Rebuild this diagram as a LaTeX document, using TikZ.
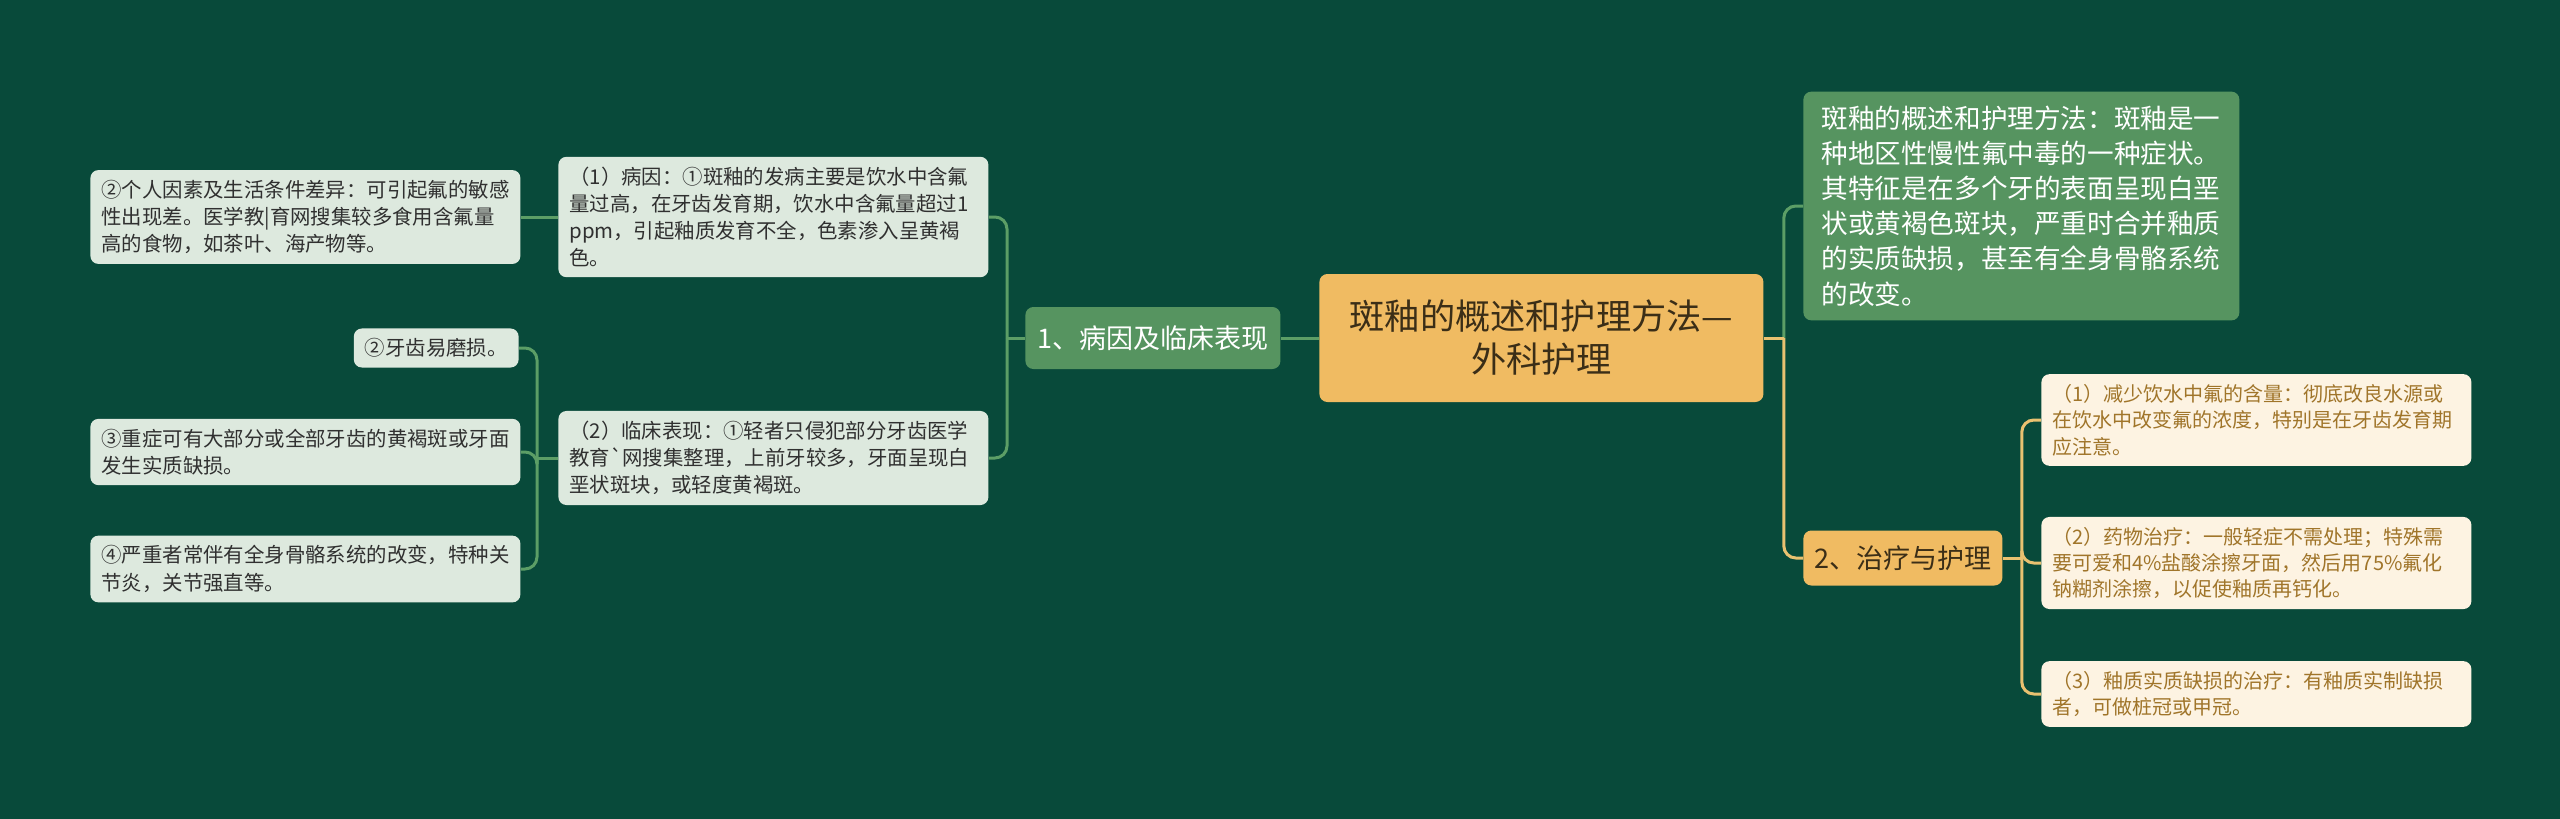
\documentclass[tikz,border=0pt]{standalone}
\usepackage{fontspec}
\setmainfont{Noto Sans CJK SC}
\usepackage{tikz}

\definecolor{bgcol}{HTML}{084A3A}
\definecolor{rootcol}{HTML}{F0BB62}
\definecolor{roottext}{HTML}{3B2E17}
\definecolor{greennode}{HTML}{569460}
\definecolor{greenleaf}{HTML}{DDE9DE}
\definecolor{leaftext}{HTML}{303030}
\definecolor{yellowleaf}{HTML}{FDF3E2}
\definecolor{yellowtext}{HTML}{A0752A}
\definecolor{greenline}{HTML}{5C9E66}
\definecolor{yellowline}{HTML}{E9C170}

\begin{document}
\begin{tikzpicture}[x = 0.5pt, y = -0.5pt,
  root/.style = {fill = rootcol, text = roottext, rounded corners = 4pt, align = center,
    minimum width = 222pt, minimum height = 64pt, inner sep = 0pt,
    font = \fontsize{17.6}{21.5}\selectfont},
  topic/.style = {fill = greennode, text = white, rounded corners = 4pt,
    minimum width = 127.5pt, minimum height = 31pt, inner sep = 0pt,
    font = \fontsize{13.5}{16}\selectfont},
  topicy/.style = {fill = rootcol, text = roottext, rounded corners = 4pt,
    minimum width = 99.5pt, minimum height = 27.5pt, inner sep = 0pt,
    font = \fontsize{13.5}{16}\selectfont},
  note/.style = {fill = greennode, text = white, rounded corners = 4pt, align = left,
    text width = 200pt, inner xsep = 9pt, inner ysep = 7pt,
    font = \fontsize{13.3}{17.6}\selectfont},
  leaf/.style = {fill = greenleaf, text = leaftext, rounded corners = 4pt, align = left,
    text width = 204pt, inner xsep = 5.5pt, inner ysep = 5pt,
    font = \fontsize{10.2}{13.6}\selectfont},
  leafy/.style = {fill = yellowleaf, text = yellowtext, rounded corners = 4pt, align = left,
    text width = 204pt, inner xsep = 5.5pt, inner ysep = 5pt,
    font = \fontsize{10}{13.2}\selectfont},
  gline/.style = {draw = greenline, line width = 1.5pt},
  yline/.style = {draw = yellowline, line width = 1.5pt}]
\useasboundingbox (0, 0) rectangle (2560, 819);
\fill[bgcol] (0, 0) rectangle (2560, 819);
%\draw[very thin, color = gray](0, 0) grid[step = 100] (2560, 819);
\node (root) at (1319, 338) [root, anchor = west] {斑釉的概述和护理方法—\\外科护理};
\node (cause) at (1025, 338) [topic, anchor = west] {1、病因及临床表现};
\node (cause1) at (558, 217) [leaf, anchor = west] {（1）病因：①斑釉的发病主要是饮水中含氟\\量过高，在牙齿发育期，饮水中含氟量超过1\\ppm，引起釉质发育不全，色素渗入呈黄褐\\色。};
\node (factor) at (90, 217) [leaf, anchor = west] {②个人因素及生活条件差异：可引起氟的敏感\\性出现差。医学教|育网搜集较多食用含氟量\\高的食物，如茶叶、海产物等。};
\node (sign) at (558, 458) [leaf, anchor = west] {（2）临床表现：①轻者只侵犯部分牙齿医学\\教育\textasciigrave 网搜集整理，上前牙较多，牙面呈现白\\垩状斑块，或轻度黄褐斑。};
\node (wear) at (519, 348) [leaf, text width = {}, anchor = east] {②牙齿易磨损。};
\node (defect) at (90, 452) [leaf, anchor = west] {③重症可有大部分或全部牙齿的黄褐斑或牙面\\发生实质缺损。};
\node (bone) at (90, 569) [leaf, anchor = west] {④严重者常伴有全身骨骼系统的改变，特种关\\节炎，关节强直等。};
\node (summary) at (1803, 206) [note, anchor = west] {斑釉的概述和护理方法：斑釉是一\\种地区性慢性氟中毒的一种症状。\\其特征是在多个牙的表面呈现白垩\\状或黄褐色斑块，严重时合并釉质\\的实质缺损，甚至有全身骨骼系统\\的改变。};
\node (care) at (1803, 558) [topicy, anchor = west] {2、治疗与护理};
\node (care1) at (2041, 420) [leafy, anchor = west] {（1）减少饮水中氟的含量：彻底改良水源或\\在饮水中改变氟的浓度，特别是在牙齿发育期\\应注意。};
\node (care2) at (2041, 563) [leafy, anchor = west] {（2）药物治疗：一般轻症不需处理；特殊需\\要可爱和4\%盐酸涂擦牙面，然后用75\%氟化\\钠糊剂涂擦，以促使釉质再钙化。};
\node (care3) at (2041, 694) [leafy, anchor = west] {（3）釉质实质缺损的治疗：有釉质实制缺损\\者，可做桩冠或甲冠。};
% left branch
\coordinate (causebus) at ([xshift = -9pt]cause.west);
\coordinate (signbus) at ([xshift = -10.5pt]sign.west);
\draw[gline] (root.west) -- (cause.east);
\draw[gline] (cause.west) -- (causebus);
\draw[gline, rounded corners = 6pt] (causebus) |- (cause1.east);
\draw[gline, rounded corners = 6pt] (causebus) |- (sign.east);
\draw[gline] (cause1.west) -- (factor.east |- cause1.west);
\draw[gline] (sign.west) -- (signbus);
\draw[gline, rounded corners = 6pt] (signbus) |- (wear.east);
\draw[gline, rounded corners = 6pt] (signbus) |- (defect.east);
\draw[gline, rounded corners = 6pt] (signbus) |- (bone.east);
% right branch
\coordinate (rootbus) at ([xshift = 10pt]root.east);
\coordinate (carebus) at ([xshift = 9.5pt]care.east);
\draw[gline, rounded corners = 6pt] (rootbus) |- (summary.west);
\draw[yline] (root.east) -- (rootbus);
\draw[yline, rounded corners = 6pt] (rootbus) |- (care.west);
\draw[yline] (care.east) -- (carebus);
\draw[yline, rounded corners = 6pt] (carebus) |- (care1.west);
\draw[yline, rounded corners = 6pt] (carebus) |- (care2.west);
\draw[yline, rounded corners = 6pt] (carebus) |- (care3.west);
\end{tikzpicture}
\end{document}
